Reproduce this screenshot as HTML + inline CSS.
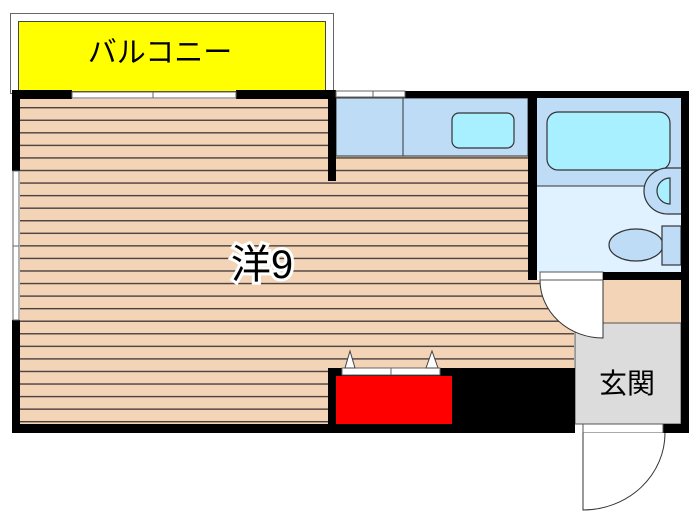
<!DOCTYPE html>
<html><head><meta charset="utf-8"><style>body{margin:0;background:#fff}svg{display:block}</style></head><body>
<svg width="700" height="525" viewBox="0 0 700 525" xmlns="http://www.w3.org/2000/svg">
<defs>
<pattern id="fl" x="0" y="107" width="10" height="12.56" patternUnits="userSpaceOnUse">
<rect width="10" height="12.56" fill="#f3d4b6"/>
<rect y="0" width="10" height="1.4" fill="#4a4040"/>
</pattern>
</defs>
<rect x="10.5" y="13.5" width="323" height="80" fill="#fff" stroke="#666" stroke-width="1"/>
<rect x="18.5" y="21.5" width="307" height="70" fill="#ffff00" stroke="#444" stroke-width="1"/>
<text x="160" y="62" font-family="Liberation Sans, Noto Sans CJK JP, sans-serif" font-size="29" text-anchor="middle" fill="#000">バルコニー</text>
<polygon points="20,99 328,99 328,180 336,180 336,156 528,156 528,280 540,280 574,330 574,368 328,368 328,424 20,424" fill="url(#fl)"/>
<rect x="336" y="98" width="192" height="58" fill="#bfdcf7" stroke="#333" stroke-width="1"/>
<line x1="403" y1="98" x2="403" y2="156" stroke="#333"/>
<rect x="452" y="113" width="62" height="35" rx="7" fill="#a8f0ff" stroke="#333" stroke-width="1.2"/>
<rect x="537" y="98" width="144" height="174" fill="#e0f2ff"/>
<rect x="537" y="98" width="144" height="88" fill="#bfdcf7"/>
<line x1="537" y1="186" x2="647" y2="186" stroke="#333"/>
<rect x="547" y="112" width="123" height="58" rx="11" fill="#a8f0ff" stroke="#333" stroke-width="1.2"/>
<path d="M681,168 L668,168 A24,23 0 0 0 668,214 L681,214" fill="#bfdcf7" stroke="#333" stroke-width="1.2"/>
<path d="M670,178 A13,13 0 0 0 670,204 Z" fill="#a8f0ff" stroke="#333" stroke-width="1.2"/>
<ellipse cx="636" cy="245" rx="27" ry="16" fill="#bfdcf7" stroke="#333" stroke-width="1.2"/>
<rect x="662" y="226" width="19" height="39" fill="#bfdcf7" stroke="#333" stroke-width="1.2"/>
<rect x="603" y="280" width="78" height="43" fill="#f3d4b6"/>
<rect x="575" y="323" width="106" height="101" fill="#dcdcdc" stroke="#555" stroke-width="1"/>
<text x="627" y="393" font-family="Liberation Sans, Noto Sans CJK JP, sans-serif" font-size="28" text-anchor="middle" fill="#000">玄関</text>
<path d="M540,280 A63,58 0 0 0 603,338 L603,280 Z" fill="#fff" stroke="#333" stroke-width="1"/>
<rect x="540" y="272" width="63" height="8" fill="#fff" stroke="#555" stroke-width="1"/>
<g fill="#000">
<rect x="12" y="90" width="60" height="9"/>
<rect x="236" y="90" width="100" height="9"/>
<rect x="405" y="91" width="284" height="7"/>
<rect x="12" y="90" width="8" height="81"/>
<rect x="12" y="320" width="8" height="113"/>
<rect x="12" y="424" width="320" height="9"/>
<rect x="328" y="92" width="8" height="89"/>
<rect x="528" y="91" width="9" height="189"/>
<rect x="681" y="91" width="8" height="342"/>
<rect x="603" y="272" width="86" height="8"/>
<rect x="328" y="368" width="247" height="65"/>
<rect x="663" y="424" width="26" height="9"/>
</g>
<rect x="72" y="92" width="164" height="6" fill="#fff" stroke="#666" stroke-width="1"/>
<line x1="153" y1="92" x2="153" y2="98" stroke="#666"/>
<rect x="336" y="91" width="69" height="6" fill="#fff" stroke="#666" stroke-width="1"/>
<line x1="373" y1="91" x2="373" y2="97" stroke="#666"/>
<rect x="13" y="171" width="6" height="149" fill="#fff" stroke="#666" stroke-width="1"/>
<line x1="13" y1="246" x2="19" y2="246" stroke="#666"/>
<rect x="336" y="376" width="116" height="48" fill="#ff0000"/>
<rect x="342" y="368" width="98" height="7" fill="#fff" stroke="#666" stroke-width="1"/>
<line x1="391" y1="368" x2="391" y2="375" stroke="#666"/>
<polygon points="345,368 350,351 355,368" fill="#fff" stroke="#444" stroke-width="1"/>
<polygon points="426,368 432,351 438,368" fill="#fff" stroke="#444" stroke-width="1"/>
<rect x="583" y="424" width="80" height="9" fill="#fff" stroke="#555" stroke-width="1"/>
<path d="M583,433 L583,510 A82,77 0 0 0 665,433" fill="#fff" stroke="#333" stroke-width="1"/>
<text x="262" y="278" font-family="Liberation Sans, Noto Sans CJK JP, sans-serif" font-size="40" text-anchor="middle" fill="#000" stroke="#fff" stroke-width="6" paint-order="stroke">洋9</text>
</svg>
</body></html>
